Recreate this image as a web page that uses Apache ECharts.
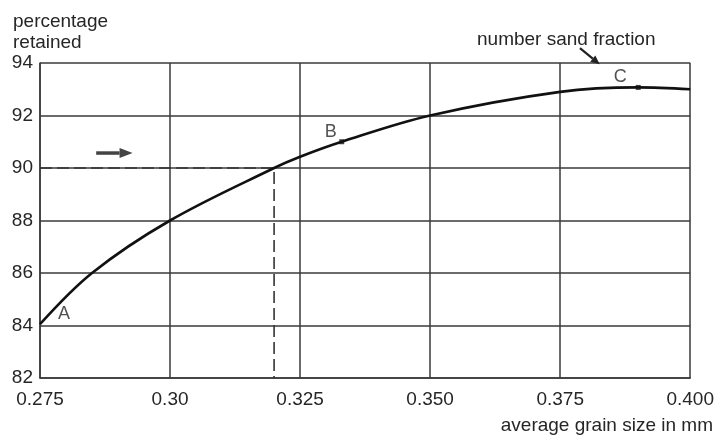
<!DOCTYPE html>
<html>
<head>
<meta charset="utf-8">
<script src="https://cdn.jsdelivr.net/npm/echarts@6/dist/echarts.min.js"></script>
<style>
html,body{margin:0;padding:0;background:#fff;}
#c{width:717px;height:438px;}
</style>
</head>
<body>
<div id="c"></div>
<script>
// Curve: average grain size (mm) vs percentage retained
const grainSize = [0.275, 0.285, 0.300, 0.320, 0.325, 0.333, 0.350, 0.375, 0.390, 0.400];
const retained  = [84.05, 86.0, 88.0, 90.0, 90.43, 91.0, 92.0, 92.9, 93.07, 93.0];

// Labelled points
const pointLabels = ['A', 'B', 'C'];
const pointX = [0.275, 0.333, 0.390];
const pointY = [84.05, 91.0, 93.07];

// Reading guide (dashed)
const guideX = 0.320;
const guideY = 90;

// Annotation arrows (data coordinates: start, end)
const readArrow = [[0.2858, 90.57], [0.2928, 90.57]];
const noteArrow = [[0.3788, 94.57], [0.3826, 93.95]];

// Tick labels
const xTickLabels = ['0.275', '0.30', '0.325', '0.350', '0.375', '0.400'];
const yTickLabels = ['82', '84', '86', '88', '90', '92', '94'];

const FONT = 'Liberation Sans, Arial, Helvetica, sans-serif';
const TXT = '#262626';
const GRID = '#3a3a3a';

const chart = echarts.init(document.getElementById('c'), null, {renderer: 'canvas'});

const curveData = grainSize.map((x, i) => [x, retained[i]]);
const labelData = pointLabels.map((t, i) => ({value: [pointX[i], pointY[i]], name: t}));
const labelOffsets = [[24, -10], [-11, -10], [-18, -10]];

const textGraphics = [
  {type: 'text', left: 13, top: 12, style: {text: 'percentage', font: '19px ' + FONT, fill: TXT}},
  {type: 'text', left: 13, top: 33, style: {text: 'retained', font: '19px ' + FONT, fill: TXT}},
  {type: 'text', right: 4, top: 416, style: {text: 'average grain size in mm', font: '19px ' + FONT, fill: TXT}},
  {type: 'text', left: 477, top: 30, style: {text: 'number sand fraction', font: '19px ' + FONT, fill: TXT}}
];

chart.setOption({
  animation: false,
  backgroundColor: '#fff',
  grid: {left: 40, right: 24, top: 63, bottom: 60, containLabel: false},
  xAxis: {
    type: 'value', min: 0.275, max: 0.4, interval: 0.025,
    axisLine: {show: true, lineStyle: {color: GRID, width: 1.5}},
    axisTick: {show: false},
    splitLine: {show: true, lineStyle: {color: GRID, width: 1.5}},
    axisLabel: {
      margin: 12, color: TXT, fontFamily: FONT, fontSize: 19,
      formatter: (v, i) => xTickLabels[i] !== undefined ? xTickLabels[i] : ''
    }
  },
  yAxis: {
    type: 'value', min: 82, max: 94, interval: 2,
    axisLine: {show: true, lineStyle: {color: GRID, width: 1.5}},
    axisTick: {show: false},
    splitLine: {show: true, lineStyle: {color: GRID, width: 1.5}},
    axisLabel: {
      margin: 7, color: TXT, fontFamily: FONT, fontSize: 19,
      formatter: (v, i) => yTickLabels[i] !== undefined ? yTickLabels[i] : ''
    }
  },
  graphic: textGraphics,
  series: [
    {
      type: 'line',
      data: [[0.275, guideY], [guideX, guideY], [guideX, 82]],
      showSymbol: false, symbol: 'none',
      lineStyle: {color: '#333', width: 1.6, type: [12, 5]},
      z: 3
    },
    {
      type: 'line',
      data: curveData,
      smooth: 0.35,
      showSymbol: false, symbol: 'none',
      lineStyle: {color: '#111', width: 2.6},
      clip: false,
      z: 5
    },
    {
      type: 'scatter',
      data: labelData,
      symbol: 'rect',
      symbolSize: (v, p) => p.dataIndex === 0 ? 0 : 5,
      itemStyle: {color: '#111'},
      z: 6,
      label: {
        show: true, formatter: p => p.name, color: TXT, fontFamily: FONT, fontSize: 18,
        position: 'inside'
      },
      labelLayout: p => ({dx: labelOffsets[p.dataIndex][0], dy: labelOffsets[p.dataIndex][1]})
    }
  ]
});

// Arrows drawn from data coordinates
function arrow(pts, color, width, headLen, headW) {
  const a = chart.convertToPixel({gridIndex: 0}, pts[0]);
  const b = chart.convertToPixel({gridIndex: 0}, pts[1]);
  const dx = b[0] - a[0], dy = b[1] - a[1];
  const len = Math.hypot(dx, dy);
  const ux = dx / len, uy = dy / len;
  const bx = b[0] - ux * headLen, by = b[1] - uy * headLen;
  return [
    {type: 'line', z: 10, shape: {x1: a[0], y1: a[1], x2: bx, y2: by}, style: {stroke: color, lineWidth: width}},
    {type: 'polygon', z: 10, shape: {points: [
      [b[0], b[1]],
      [bx - uy * headW / 2, by + ux * headW / 2],
      [bx + uy * headW / 2, by - ux * headW / 2]
    ]}, style: {fill: color}}
  ];
}
chart.setOption({
  graphic: textGraphics.concat(
    arrow(readArrow, '#444', 3.5, 13, 10),
    arrow(noteArrow, '#222', 2.2, 9, 8)
  )
});
</script>
</body>
</html>
